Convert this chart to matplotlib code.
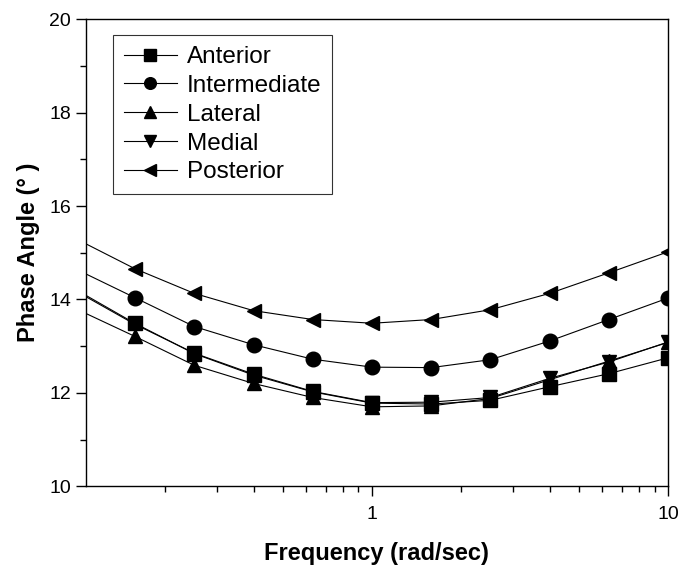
import matplotlib
matplotlib.use("Agg")
import matplotlib.pyplot as plt
from matplotlib.ticker import FixedLocator, LogLocator, MultipleLocator, NullFormatter

plt.rcParams['font.family'] = ['Liberation Sans', 'DejaVu Sans']

# frequency points (rad/sec), first one sits just left of the axis
freq = [0.1, 0.158, 0.251, 0.398, 0.631, 1.0, 1.585, 2.512, 3.981, 6.31, 10.0]

# phase angle (deg) per region
anterior     = [14.21, 13.49, 12.84, 12.38, 12.02, 11.78, 11.76, 11.84, 12.13, 12.41, 12.75]
intermediate = [14.65, 14.04, 13.42, 13.03, 12.72, 12.55, 12.54, 12.71, 13.11, 13.57, 14.03]
lateral      = [13.80, 13.21, 12.59, 12.20, 11.90, 11.70, 11.72, 11.88, 12.28, 12.68, 13.08]
medial       = [14.18, 13.47, 12.85, 12.40, 12.03, 11.79, 11.80, 11.90, 12.31, 12.66, 13.09]
posterior    = [15.30, 14.66, 14.13, 13.76, 13.57, 13.49, 13.57, 13.78, 14.13, 14.57, 15.02]

names = ['Anterior', 'Intermediate', 'Lateral', 'Medial', 'Posterior']
series = [anterior, intermediate, lateral, medial, posterior]
marks = ['s', 'o', '^', 'v', '<']

fig = plt.figure(figsize=(6.81, 5.68), dpi=100)
ax = fig.add_axes([0.126, 0.144, 0.855, 0.822])

for name, vals, m in zip(names, series, marks):
    ax.plot(freq, vals, color='black', lw=0.8, marker=m, markersize=10.5,
            markevery=slice(1, None), label=name)

ax.set_xscale('log')
ax.set_xlim(0.108, 10)
ax.set_ylim(10, 20)

ax.xaxis.set_major_locator(FixedLocator([1, 10]))
ax.set_xticklabels(['1', '10'])
ax.xaxis.set_minor_locator(LogLocator(base=10, subs=range(2, 10)))
ax.xaxis.set_minor_formatter(NullFormatter())
ax.yaxis.set_major_locator(MultipleLocator(2))
ax.yaxis.set_minor_locator(MultipleLocator(1))

ax.tick_params(which='major', direction='out', length=7, width=1, labelsize=14,
               top=False, right=False)
ax.tick_params(axis='x', which='major', pad=7)
ax.tick_params(which='minor', direction='out', length=4, width=1,
               top=False, right=False)
for s in ax.spines.values():
    s.set_linewidth(1)

ax.set_xlabel('Frequency (rad/sec)', fontsize=17, fontweight='bold', labelpad=14)
ax.set_ylabel('Phase Angle (° )', fontsize=17, fontweight='bold', labelpad=7)

leg = ax.legend(loc='upper left', bbox_to_anchor=(0.046, 0.966), borderaxespad=0,
                fontsize=17.5, frameon=True, fancybox=False, edgecolor='black',
                handlelength=2.2, labelspacing=0.28, borderpad=0.45,
                handletextpad=0.4, markerscale=0.8)
leg.get_frame().set_linewidth(0.8)

fig.savefig('out.png', dpi=100)
